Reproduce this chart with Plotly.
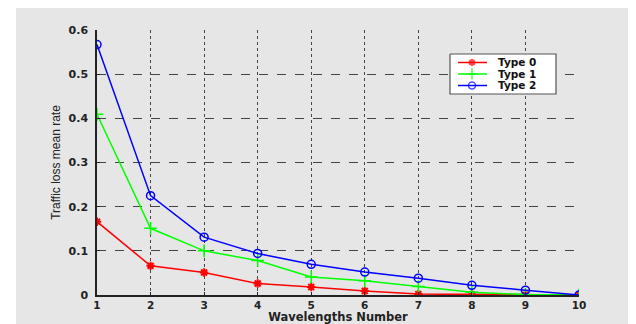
import plotly.graph_objects as go

x_vals = [1, 2, 3, 4, 5, 6, 7, 8, 9, 10]
type0 = [0.166, 0.066, 0.051, 0.026, 0.018, 0.009, 0.002, 0.001, 0.0, 0.0]
type1 = [0.409, 0.151, 0.100, 0.078, 0.041, 0.032, 0.019, 0.006, 0.001, 0.0]
type2 = [0.567, 0.225, 0.131, 0.094, 0.0695, 0.052, 0.038, 0.022, 0.011, 0.0]
series_names = ["Type 0", "Type 1", "Type 2"]
x_ticks = [1, 2, 3, 4, 5, 6, 7, 8, 9, 10]
y_ticks = [0, 0.1, 0.2, 0.3, 0.4, 0.5, 0.6]
y_tick_text = ["0", "0.1", "0.2", "0.3", "0.4", "0.5", "0.6"]

colors = ["#ff0000", "#00ff00", "#0000ff"]
symbols = ["asterisk-open", "cross-thin-open", "circle-open"]
msizes = [7, 9, 8]
mwidths = [2, 1.5, 1.5]
leg_sizes = [6, 8, 7]
series = [type0, type1, type2]

# page offset from the default body margin
OFF = 8
W, H = 636 - OFF, 324 - OFF
# plot area in page pixels: x 97..579, y 30..295
PL, PR, PT, PB = 97, 579, 30, 295
l, r, t, b = PL - OFF, W - (PR - OFF), PT - OFF, H - (PB - OFF)
pw, ph = W - l - r, H - t - b

def px2x(px):
    return (px - PL) / pw

def py2y(py):
    return (PB - py) / ph

fig = go.Figure()
for name, ys, c, s, ms, mw in zip(series_names, series, colors, symbols, msizes, mwidths):
    fig.add_trace(go.Scatter(x=x_vals, y=ys, name=name, mode="lines+markers",
                             line=dict(color=c, width=1.5),
                             marker=dict(symbol=s, size=ms, color=c, line=dict(color=c, width=mw))))

# custom compact legend drawn on a pixel-space overlay axis pair
bx0, bx1, by0, by1 = 450, 556, 54, 94
fig.add_trace(go.Scatter(x=[bx0, bx1, bx1, bx0, bx0], y=[by0, by0, by1, by1, by0],
                         xaxis="x2", yaxis="y2", mode="lines", fill="toself",
                         fillcolor="white", line=dict(color="#555555", width=1.2),
                         showlegend=False, hoverinfo="skip"))
row_y = [62.5, 74, 85.5]
for name, c, s, ls, mw, ry in zip(series_names, colors, symbols, leg_sizes, mwidths, row_y):
    fig.add_trace(go.Scatter(x=[458, 472, 487], y=[ry, ry, ry], xaxis="x2", yaxis="y2",
                             mode="lines+markers", showlegend=False, hoverinfo="skip",
                             line=dict(color=c, width=1.5),
                             marker=dict(symbol=s, size=[0, ls, 0], color=c, line=dict(color=c, width=mw))))
    fig.add_annotation(xref="paper", yref="paper", x=px2x(497), y=py2y(ry), text=name,
                       showarrow=False, xanchor="left", yanchor="middle", borderpad=0,
                       font=dict(family="DejaVu Sans", size=10.5, color="#111111", weight="bold"))

fig.add_shape(type="rect", xref="paper", yref="paper",
              x0=px2x(16), x1=px2x(660), y0=py2y(340), y1=py2y(5),
              fillcolor="#e6e6e6", line=dict(width=0), layer="below")

tickfont = dict(family="DejaVu Sans", size=11, color="#222222", weight="bold")
xtickfont = dict(family="DejaVu Sans", size=10.5, color="#222222", weight="bold")

fig.update_layout(
    width=W, height=H,
    margin=dict(l=l, r=r, t=t, b=b, autoexpand=False),
    paper_bgcolor="white",
    plot_bgcolor="white",
    showlegend=False,
    xaxis=dict(range=[1, 10], tickvals=x_ticks, ticktext=[str(v) for v in x_ticks],
               automargin=False,
               showgrid=True, gridcolor="#444444", griddash="dot", gridwidth=1,
               showline=True, linecolor="#222222", linewidth=1.5, mirror=False,
               zeroline=False, ticks="inside", ticklen=3, tickcolor="#222222",
               tickfont=xtickfont,
               title=dict(text="Wavelengths Number", standoff=3,
                          font=dict(family="DejaVu Sans", size=11.5, color="#222222", weight="bold"))),
    yaxis=dict(range=[0, 0.6], tickvals=y_ticks, ticktext=y_tick_text,
               automargin=False,
               showgrid=True, gridcolor="#444444", griddash="dash", gridwidth=1,
               showline=True, linecolor="#222222", linewidth=1.5, mirror=False,
               zeroline=False, ticks="inside", ticklen=3, tickcolor="#222222",
               tickfont=tickfont, ticklabelstandoff=5,
               title=dict(text="Traffic loss mean rate", standoff=5,
                          font=dict(family="Liberation Sans", size=12, color="#222222"))),
    xaxis2=dict(range=[PL, PR], overlaying="x", visible=False, fixedrange=True, automargin=False),
    yaxis2=dict(range=[PB, PT], overlaying="y", visible=False, fixedrange=True, automargin=False),
)

fig.write_html("out.html")
